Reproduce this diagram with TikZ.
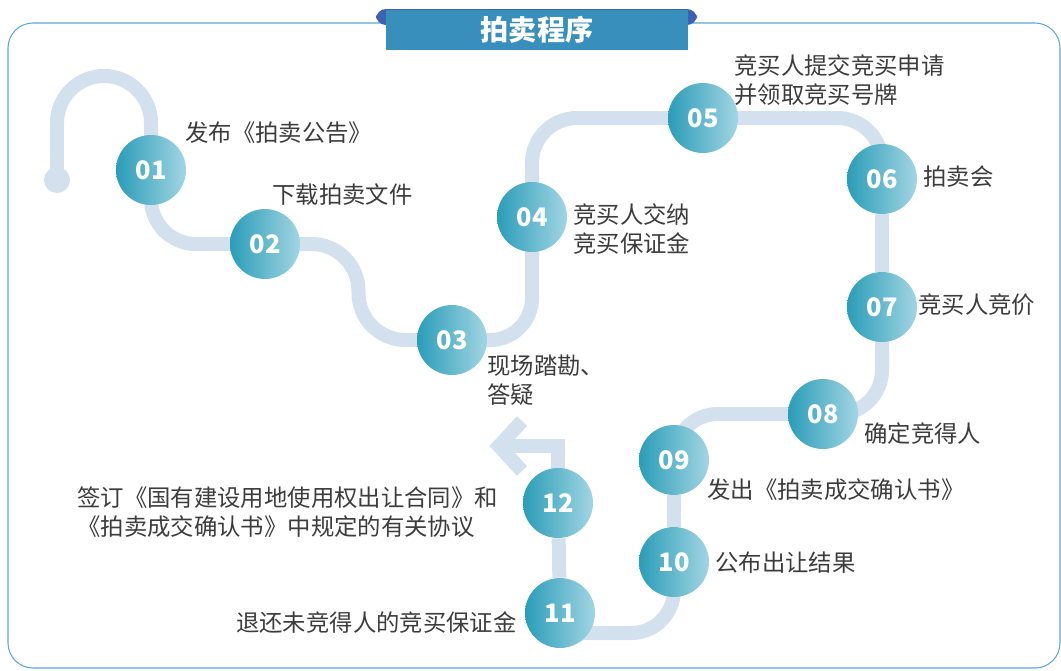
\documentclass[tikz,border=0pt]{standalone}
\usepackage{fontspec}
\newfontfamily\cjk{Noto Sans CJK SC}
\usetikzlibrary{calc,backgrounds}
\definecolor{cadrebleu}{HTML}{5AA8D4}
\definecolor{ongletbleu}{HTML}{3D62B2}
\definecolor{titrebleu}{HTML}{388FBC}
\definecolor{pistebleu}{HTML}{D3E1EE}
\definecolor{rondg}{HTML}{2A9DB8}
\definecolor{rondm}{HTML}{3792B8}
\definecolor{rondd}{HTML}{A2D5E3}
\definecolor{texte}{HTML}{3C3C3C}

\begin{document}
\begin{tikzpicture}[x=0.02cm, y=-0.02cm]
\tikzset{etape/.style={circle, minimum size=1.4cm, inner sep=0pt,
    left color=rondg, middle color=rondm, right color=rondd, text=white,
    font=\cjk\bfseries\fontsize{14.5}{14.5}\selectfont},
  legende/.style={anchor=west, align=left, inner sep=0pt, text=texte,
    font=\cjk\fontsize{13.3}{16.4}\selectfont},
  piste/.style={draw=pistebleu, line width=0.28cm}}
\useasboundingbox (0,0) rectangle (1061,670);
\draw[cadrebleu, line width=0.6pt, rounded corners=0.5cm] (8,23) rectangle (1060,668);
\fill[ongletbleu, rounded corners=0.2cm] (376,25) rectangle (697,9);
\node[fill=titrebleu, minimum width=6.06cm, minimum height=0.8cm, text=white,
  font=\cjk\bfseries\fontsize{16}{16}\selectfont] (titre) at (537,30) {拍卖程序};
\node[etape] (E1) at (151,170) {01};
\node[etape] (E2) at (265,244) {02};
\node[etape] (E3) at (452,340) {03};
\node[etape] (E4) at (532,217) {04};
\node[etape] (E5) at (703,118) {05};
\node[etape] (E6) at (882,179) {06};
\node[etape] (E7) at (882,307) {07};
\node[etape] (E8) at (823,414) {08};
\node[etape] (E9) at (674,460) {09};
\node[etape] (E10) at (674,562) {10};
\node[etape] (E11) at (560,613) {11};
\node[etape] (E12) at (558,503) {12};
\coordinate (D) at (57,180);
\coordinate (H) at (104,76);
\coordinate (M) at ($(E2)!0.5!(E3)$);
\coordinate (F) at (505,446);
\begin{scope}[on background layer]
\fill[pistebleu] (D) circle (0.26cm);
\draw[piste, rounded corners=0.94cm] (D) -- (D |- H) -- (E1.center |- H) -- (E1.center);
\draw[piste, rounded corners=0.9cm] (E1.center) |- (E2.center);
\draw[piste, rounded corners=0.94cm] (E2.center) -- (M |- E2) -- (M |- E3) -- (E3.center);
\draw[piste, rounded corners=0.84cm] (E3.center) -| (E4.center);
\draw[piste, rounded corners=0.9cm] (E4.center) |- (E5.center);
\draw[piste, rounded corners=0.9cm] (E5.center) -| (E6.center);
\draw[piste] (E6) -- (E7);
\draw[piste, rounded corners=0.88cm] (E7.center) |- (E8.center);
\draw[piste, rounded corners=0.88cm] (E8.center) -| (E9.center);
\draw[piste] (E9) -- (E10);
\draw[piste, rounded corners=0.86cm] (E10.center) |- ([yshift=-0.4cm]E11.center);
\draw[piste] (E11) -- (E12);
\draw[piste, line join=miter] (E12.center) |- (F);
\draw[piste, line join=miter] (522,421) -- (499,446) -- (522,471);
\end{scope}
\node[legende] (T1) at (185,133) {发布《拍卖公告》};
\node[legende] (T2) at (272,195) {下载拍卖文件};
\node[legende] (T3) at (487,380) {现场踏勘、\\答疑};
\node[legende] (T4) at (573,229) {竞买人交纳\\竞买保证金};
\node[legende] (T5) at (734,80) {竞买人提交竞买申请\\并领取竞买号牌};
\node[legende] (T6) at (923,177) {拍卖会};
\node[legende] (T7) at (918,305) {竞买人竞价};
\node[legende] (T8) at (864,434) {确定竞得人};
\node[legende] (T9) at (707,490) {发出《拍卖成交确认书》};
\node[legende] (T10) at (715,563) {公布出让结果};
\node[legende, anchor=east] (T11) at (517,623) {退还未竞得人的竞买保证金};
\node[legende] (T12) at (77,512) {签订《国有建设用地使用权出让合同》和\\《拍卖成交确认书》中规定的有关协议};
\end{tikzpicture}
\end{document}
